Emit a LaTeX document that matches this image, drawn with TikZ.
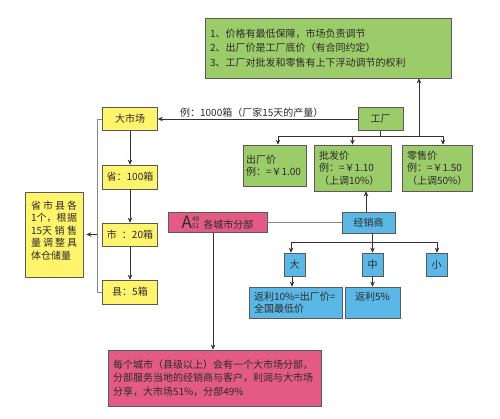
\documentclass[tikz,border=0pt]{standalone}
\usepackage{fontspec}
\setmainfont{Noto Sans CJK SC}
\usetikzlibrary{arrows.meta}
\definecolor{txt}{HTML}{2B2B2B}
\definecolor{bordc}{HTML}{5A5A5A}
\definecolor{gfill}{HTML}{9CCB6A}
\definecolor{yfill}{HTML}{FFF46C}
\definecolor{bfill}{HTML}{5BB8E6}
\definecolor{pfill}{HTML}{E35A87}
\definecolor{linec}{HTML}{333333}
\definecolor{grayline}{HTML}{888888}
\begin{document}
\begin{tikzpicture}[x=1pt,y=-1pt,
  every node/.style={font=\fontsize{10}{12.5}\selectfont, text=txt},
  box/.style={draw=bordc, line width=0.6pt, inner sep=0pt, align=center},
  gbox/.style={box, fill=gfill},
  ybox/.style={box, fill=yfill},
  bbox/.style={box, fill=bfill},
  pbox/.style={box, fill=pfill},
  conn/.style={draw=linec, line width=0.7pt},
  gconn/.style={draw=grayline, line width=0.7pt},
  arr/.style={conn, -{Stealth[length=5pt,width=4.5pt]}},
]
\useasboundingbox (0,0) rectangle (500,419);

% top rules box
\node[gbox, text width=236pt, inner xsep=5pt, minimum height=60pt, align=left,
  font=\fontsize{10}{14.5}\selectfont] (rules) at (328,48)
  {1、价格有最低保障，市场负责调节\\2、出厂价是工厂底价（有合同约定）\\3、工厂对批发和零售有上下浮动调节的权利};

% factory and prices
\node[gbox, minimum width=45pt, minimum height=23pt] (fac) at (380.5,119) {工厂};
\node[gbox, text width=57pt, inner xsep=3pt, minimum height=41pt, align=left] (ccj) at (274.5,165.5)
  {出厂价\\例：=￥1.00};
\node[gbox, text width=67pt, inner xsep=5pt, minimum height=46pt, align=left] (pfj) at (352.5,168)
  {批发价\\例：=￥1.10\\（上调10\%）};
\node[gbox, text width=60pt, inner xsep=5pt, minimum height=46pt, align=left] (lsj) at (437,168)
  {零售价\\例：=￥1.50\\（上调50\%）};

% dealers
\node[bbox, minimum width=53pt, minimum height=21pt] (jxs) at (368.5,222.5) {经销商};
\node[pbox, minimum width=99pt, minimum height=20pt] (fb) at (217.5,222.5)
  {{\fontsize{17}{17}\selectfont A}\raisebox{-0.5pt}{\fontsize{6.5}{6.5}\selectfont\shortstack[l]{49\\51}}\hspace{4pt}各城市分部};
\node[bbox, minimum width=21pt, minimum height=23pt] (da) at (294.5,264.5) {大};
\node[bbox, minimum width=21pt, minimum height=23pt] (zh) at (372.5,264.5) {中};
\node[bbox, minimum width=21pt, minimum height=23pt] (xi) at (436.5,264.5) {小};
\node[bbox, text width=83pt, inner xsep=5pt, minimum height=31pt, align=left] (fl10) at (295.5,302.5)
  {返利10\%=出厂价=\\全国最低价};
\node[bbox, minimum width=55pt, minimum height=31pt] (fl5) at (372.5,302.5) {返利5\%\\\mbox{}};

% bottom note
\node[pbox, text width=203pt, inner xsep=5pt, minimum height=56pt, align=left,
  font=\fontsize{10}{13.5}\selectfont] (note) at (214.5,378)
  {每个城市（县级以上）会有一个大市场分部，\\分部服务当地的经销商与客户，利润与大市场\\分享，大市场51\%，分部49\%};

% yellow column
\node[ybox, minimum width=55pt, minimum height=23pt] (dsc) at (130,119) {大市场};
\node[ybox, minimum width=55pt, minimum height=24pt] (sheng) at (130,177) {省：100箱};
\node[ybox, minimum width=55pt, minimum height=23pt] (shi) at (130,234.5) {市\hspace{5pt}：20箱};
\node[ybox, minimum width=55pt, minimum height=24pt] (xian) at (130,292) {县：5箱};
\node[ybox, minimum width=58pt, minimum height=85pt] (lnote) at (54,234.5)
  {\makebox[46pt][s]{省\hfill 市\hfill 县\hfill 各}\\
   \makebox[46pt][s]{1个，根\hfill 据}\\
   \makebox[46pt][s]{15天\hfill 销\hfill 售}\\
   \makebox[46pt][s]{量\hfill 调\hfill 整\hfill 具}\\
   \makebox[46pt][l]{体仓储量}\\[-4pt]\mbox{}};

% connectors: factory
\draw[arr] (fac.west) -- node[above=1pt, inner sep=0pt, pos=0.53] (lab) {例：1000箱（厂家15天的产量）} (fac.west -| dsc.east);
\coordinate (hL) at (278,136);
\coordinate (hR) at (443,136);
\coordinate (hU) at (419,136);
\draw[conn] (fac.south) -- (fac.south |- hL);
\draw[conn] (hL) -- (hR);
\draw[arr] (hL) -- (hL |- ccj.north);
\draw[arr] (pfj.north |- hL) -- (pfj.north);
\draw[arr] (hR) -- (hR |- lsj.north);
\draw[arr] (hU) -- (hU |- rules.south);

% dealers connectors
\draw[arr] ([xshift=-2.5pt]jxs.north) -- ([xshift=-2.5pt]jxs.north |- pfj.south);
\draw[gconn] (fb.east) -- (jxs.west);
\draw[arr] ([xshift=-4.5pt]fb.south) -- ([xshift=-4.5pt]fb.south |- note.north);
\coordinate (bL) at (291,242);
\coordinate (bR) at (437,242);
\draw[conn] (bL) -- (bR);
\draw[arr] (zh.north |- jxs.south) -- (zh.north);
\draw[arr] (bL) -- (bL |- da.north);
\draw[arr] (bR) -- (bR |- xi.north);
\draw[arr] ([xshift=-2.5pt]da.south) -- ([xshift=-2.5pt]da.south |- fl10.north);
\draw[arr] (zh.south) -- (zh.south |- fl5.north);

% yellow connectors
\draw[arr] (dsc.south) -- (sheng.north);
\draw[arr] (sheng.south) -- (shi.north);
\draw[arr] (shi.south) -- (xian.north);
\coordinate (bx) at (97,0);
\draw[gconn] (dsc.west) -- (dsc.west -| bx) |- (xian.west);
\draw[arr] (bx |- lnote.east) -- ([xshift=3pt]lnote.east);
\end{tikzpicture}
\end{document}
